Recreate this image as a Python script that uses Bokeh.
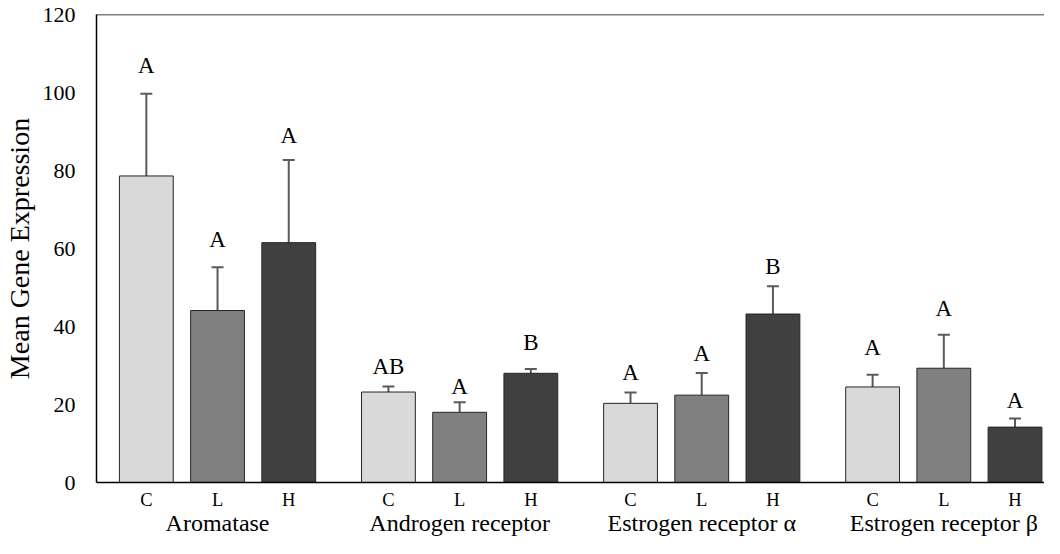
from bokeh.plotting import figure
from bokeh.models import (ColumnDataSource, FixedTicker, LinearAxis, Whisker, TeeHead, Range1d, Span)
from bokeh.core.properties import value
from bokeh.embed import file_html
from bokeh.resources import INLINE

genes = ["Aromatase", "Androgen receptor", "Estrogen receptor α", "Estrogen receptor β"]
groups = ["C", "L", "H"]
means = {
    "C": [78.6, 23.2, 20.3, 24.5],
    "L": [44.1, 18.0, 22.4, 29.3],
    "H": [61.5, 28.0, 43.2, 14.2],
}
errors = {
    "C": [21.1, 1.4, 2.8, 3.1],
    "L": [11.1, 2.6, 5.7, 8.6],
    "H": [21.2, 1.1, 7.1, 2.2],
}
letters = {
    "C": ["A", "AB", "A", "A"],
    "L": ["A", "A", "A", "A"],
    "H": ["A", "B", "B", "A"],
}
# height (in data units) of the baseline of each significance letter
letter_y = {
    "C": [104.5, 27.5, 25.9, 32.3],
    "L": [60.0, 22.4, 30.8, 42.2],
    "H": [86.7, 33.6, 53.1, 18.6],
}
colors = {"C": "#d9d9d9", "L": "#808080", "H": "#404040"}

FONT = "Liberation Serif"
BAR_STEP = 5
GROUP_STEP = 17

xs, tops, uppers, fills, labs, laby, subs = [], [], [], [], [], [], []
for gi, g in enumerate(genes):
    for si, s in enumerate(groups):
        xs.append(gi * GROUP_STEP + (si - 1) * BAR_STEP)
        tops.append(means[s][gi])
        uppers.append(means[s][gi] + errors[s][gi])
        fills.append(colors[s])
        labs.append(letters[s][gi])
        laby.append(letter_y[s][gi])
        subs.append(s)
gene_x = [gi * GROUP_STEP for gi in range(len(genes))]

src = ColumnDataSource(dict(x=xs, top=tops, upper=uppers, fill=fills, lab=labs, laby=laby))

p = figure(width=1044, height=538, output_backend="svg", toolbar_location=None,
           x_range=Range1d(-8.5, 58.07), y_range=Range1d(0, 120),
           min_border_left=92, min_border_right=0, min_border_top=14, min_border_bottom=0)
p.outline_line_color = None
p.xgrid.grid_line_color = None
p.ygrid.grid_line_color = None
p.background_fill_color = "white"
p.border_fill_color = "white"

p.vbar(x="x", top="top", bottom=0, width=3.78, fill_color="fill", line_color="#262626",
       line_width=1, source=src)

wh = Whisker(base="x", lower="top", upper="upper", source=src, dimension="height",
             line_color="#5a5a5a", line_width=2, lower_head=None,
             upper_head=TeeHead(size=12, line_color="#5a5a5a", line_width=2))
p.add_layout(wh)

p.text(x="x", y="laby", text="lab", source=src, text_font=value(FONT),
       text_font_size="23px", text_align="center", text_baseline="alphabetic",
       y_offset=-9, text_color="black")

# top border line
p.add_layout(Span(location=120, dimension="width", line_color="black", line_width=1.5))

# y axis
ya = p.yaxis[0]
ya.ticker = FixedTicker(ticks=[0, 20, 40, 60, 80, 100, 120])
ya.major_tick_line_color = None
ya.minor_tick_line_color = None
ya.major_tick_out = 0
ya.major_tick_in = 0
ya.major_label_standoff = 21
ya.major_label_text_font = FONT
ya.major_label_text_font_size = "22px"
ya.major_label_text_color = "black"
ya.axis_line_color = "black"
ya.axis_line_width = 1.5
ya.axis_label = "Mean Gene Expression"
ya.axis_label_text_font = FONT
ya.axis_label_text_font_size = "28px"
ya.axis_label_text_font_style = "normal"
ya.axis_label_text_color = "black"
ya.axis_label_standoff = 5

# bottom axis: C/L/H
xa = p.xaxis[0]
xa.ticker = FixedTicker(ticks=xs)
xa.major_label_overrides = {x: s for x, s in zip(xs, subs)}
xa.major_tick_line_color = None
xa.minor_tick_line_color = None
xa.major_tick_out = 0
xa.major_tick_in = 0
xa.major_label_standoff = 7
xa.major_label_text_font = FONT
xa.major_label_text_font_size = "18.5px"
xa.major_label_text_color = "black"
xa.axis_line_color = "black"
xa.axis_line_width = 1.5

# second bottom axis: gene names
ga = LinearAxis(ticker=FixedTicker(ticks=gene_x),
                major_label_overrides={x: g for x, g in zip(gene_x, genes)},
                major_tick_line_color=None, minor_tick_line_color=None,
                major_tick_out=0, major_tick_in=0, major_label_standoff=-3,
                major_label_text_font=FONT, major_label_text_font_size="24px",
                major_label_text_color="black", axis_line_color=None)
p.add_layout(ga, "below")

open("out.html", "w").write(file_html(p, INLINE))
